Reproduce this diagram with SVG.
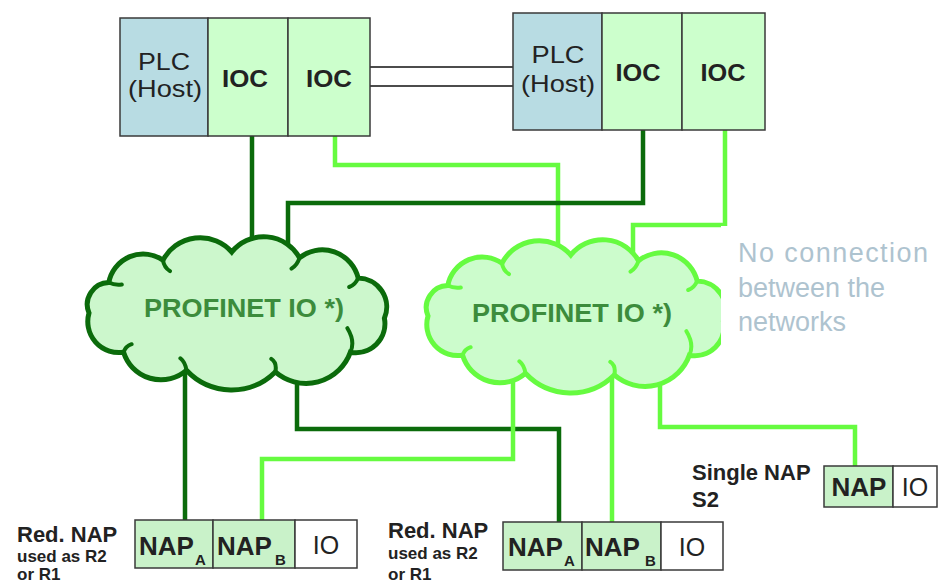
<svg xmlns="http://www.w3.org/2000/svg" width="940" height="585" viewBox="0 0 940 585">
  <style>
    text { font-family: "Liberation Sans", Arial, sans-serif; fill: #222; }
    .box { stroke: #3a3a3a; stroke-width: 1.5; }
    .plc { fill: #b8dce3; }
    .ioc { fill: #ccffcc; }
    .nap { fill: #c9f2c9; }
    .io { fill: #ffffff; }
    .lbl { font-size: 24px; text-anchor: middle; }
    .ioc-t { font-size: 23px; font-weight: bold; text-anchor: middle; }
    .nap-t { font-size: 26px; font-weight: bold; }
    .sub { font-size: 15px; font-weight: bold; }
    .io-t { font-size: 25px; text-anchor: middle; }
    .side-b { font-size: 22px; font-weight: bold; }
    .side-s { font-size: 17px; font-weight: bold; }
    .dark { fill: none; stroke: #0b6b0b; stroke-width: 4.5; stroke-linejoin: miter; }
    .light { fill: none; stroke: #66fb40; stroke-width: 4.5; stroke-linejoin: miter; }
    .link { fill: none; stroke: #111; stroke-width: 1.5; }
    .cloud-d { fill: #ccf7cc; stroke: #0b6b0b; stroke-width: 5; }
    .cloud-l { fill: #ccfccc; stroke: #66fb40; stroke-width: 5; }
    .hook-d { fill: none; stroke: #0b6b0b; stroke-width: 4; stroke-linecap: round; }
    .hook-l { fill: none; stroke: #66fb40; stroke-width: 4; stroke-linecap: round; }
    .net-t { font-size: 26px; font-weight: bold; fill: #3c8c3c; text-anchor: middle; }
    .note { font-size: 27px; fill: #aec3cf; }
  </style>
  <defs>
    <path id="cloud" d="M-148,0 A22,22 0 0 1 -128.2,-30.5 A35,35 0 0 1 -74,-52.8 A42,42 0 0 1 -5.2,-61 A41,41 0 0 1 62.5,-55.3 A37,37 0 0 1 121.2,-35 A29,29 0 0 1 147.4,5.3 A29,29 0 0 1 113.4,39.2 A47,47 0 0 1 38.3,58.9 A62,62 0 0 1 -50.6,57.3 A39,39 0 0 1 -113.4,39.2 A31,31 0 0 1 -148,0 Z"/>
    <path id="hooks" d="M-128.2,-30.5 q6,3 13,2 M-74,-52.8 q1,7 7,11 M62.5,-55.3 q-2,7 -8,11 M121.2,-35 q-3,7 -9,9 M113.4,39.2 q5,-11 -3,-24 M38.3,58.9 q2,-9 -4,-13 M-50.6,57.3 q-1,-8 -6,-12 M-113.4,39.2 q2,-6 8,-8"/>
  </defs>

  <!-- connectors -->
  <g id="connectors">
    <!-- upper links, light network -->
    <polyline class="light" points="335,136 335,165 558,165 558,260"/>
    <polyline class="light" points="725,130 725,225 633,225 633,262"/>
    <!-- upper links, dark network -->
    <polyline class="dark" points="252,136 252,258"/>
    <polyline class="dark" points="643,130 643,203 288,203 288,262"/>
    <!-- lower links, dark network -->
    <polyline class="dark" points="185,360 185,521"/>
    <polyline class="dark" points="297,355 297,429 559,429 559,523"/>
    <!-- lower links, light network -->
    <polyline class="light" points="513,365 513,459 262,459 262,521"/>
    <polyline class="light" points="612,370 612,523"/>
    <polyline class="light" points="660,360 660,427 855,427 855,467"/>
    <!-- host to host -->
    <line class="link" x1="370" y1="67" x2="513" y2="67"/>
    <line class="link" x1="370" y1="86" x2="513" y2="86"/>
  </g>

  <!-- networks -->
  <g id="net-a">
    <use href="#cloud" class="cloud-d" transform="translate(237,313)"/>
    <use href="#hooks" class="hook-d" transform="translate(237,313)"/>
    <text class="net-t" x="244" y="317" textLength="200" lengthAdjust="spacingAndGlyphs">PROFINET IO *)</text>
  </g>
  <g id="net-b">
    <use href="#cloud" class="cloud-l" transform="translate(576,316)"/>
    <use href="#hooks" class="hook-l" transform="translate(576,316)"/>
    <text class="net-t" x="572" y="322" textLength="200" lengthAdjust="spacingAndGlyphs">PROFINET IO *)</text>
  </g>

  <g id="note">
    <rect x="721" y="226" width="219" height="119" fill="#fff"/>
    <text class="note" x="738" y="262" textLength="190">No connection</text>
    <text class="note" x="738" y="297">between the</text>
    <text class="note" x="738" y="331">networks</text>
  </g>

  <!-- controllers -->
  <g id="host-1">
    <rect class="box plc" x="120" y="18" width="88" height="118"/>
    <rect class="box ioc" x="208" y="18" width="80" height="118"/>
    <rect class="box ioc" x="288" y="18" width="82" height="118"/>
    <text class="lbl" x="164" y="70" textLength="52" lengthAdjust="spacingAndGlyphs">PLC</text>
    <text class="lbl" x="165" y="97" textLength="74" lengthAdjust="spacingAndGlyphs">(Host)</text>
    <text class="ioc-t" x="245" y="87" textLength="46" lengthAdjust="spacingAndGlyphs">IOC</text>
    <text class="ioc-t" x="329" y="87" textLength="46" lengthAdjust="spacingAndGlyphs">IOC</text>
  </g>
  <g id="host-2">
    <rect class="box plc" x="513" y="13" width="89" height="117"/>
    <rect class="box ioc" x="602" y="13" width="80" height="117"/>
    <rect class="box ioc" x="682" y="13" width="83" height="117"/>
    <text class="lbl" x="558" y="63" textLength="53" lengthAdjust="spacingAndGlyphs">PLC</text>
    <text class="lbl" x="558" y="92" textLength="74" lengthAdjust="spacingAndGlyphs">(Host)</text>
    <text class="ioc-t" x="638" y="81" textLength="45" lengthAdjust="spacingAndGlyphs">IOC</text>
    <text class="ioc-t" x="723" y="81" textLength="45" lengthAdjust="spacingAndGlyphs">IOC</text>
  </g>

  <!-- devices -->
  <g id="device-1">
    <text class="side-b" x="17" y="542">Red. NAP</text>
    <text class="side-s" x="17" y="562">used as R2</text>
    <text class="side-s" x="17" y="580">or R1</text>
    <rect class="box nap" x="135" y="520" width="78" height="48"/>
    <rect class="box nap" x="213" y="520" width="82" height="48"/>
    <rect class="box io" x="295" y="520" width="62" height="48"/>
    <text class="nap-t" x="139" y="555">NAP<tspan class="sub" dx="1" dy="10">A</tspan></text>
    <text class="nap-t" x="217" y="555">NAP<tspan class="sub" dx="3" dy="10">B</tspan></text>
    <text class="io-t" x="326" y="554">IO</text>
  </g>
  <g id="device-2">
    <text class="side-b" x="388" y="538">Red. NAP</text>
    <text class="side-s" x="388" y="559">used as R2</text>
    <text class="side-s" x="388" y="580">or R1</text>
    <rect class="box nap" x="503" y="522" width="79" height="48"/>
    <rect class="box nap" x="582" y="522" width="79" height="48"/>
    <rect class="box io" x="661" y="522" width="62" height="48"/>
    <text class="nap-t" x="508" y="556">NAP<tspan class="sub" dx="1" dy="10">A</tspan></text>
    <text class="nap-t" x="585" y="556">NAP<tspan class="sub" dx="5" dy="10">B</tspan></text>
    <text class="io-t" x="692" y="556">IO</text>
  </g>
  <g id="device-3">
    <text class="side-b" x="692" y="480">Single NAP</text>
    <text class="side-b" x="692" y="507">S2</text>
    <rect class="box nap" x="824" y="466" width="69" height="41"/>
    <rect class="box io" x="893" y="466" width="44" height="41"/>
    <text class="nap-t" x="859" y="496" text-anchor="middle">NAP</text>
    <text class="io-t" x="915" y="496">IO</text>
  </g>
</svg>
